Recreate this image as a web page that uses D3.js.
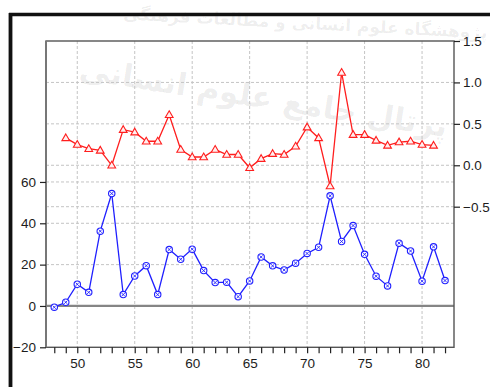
<!DOCTYPE html>
<html>
<head>
<meta charset="utf-8">
<script src="https://cdn.jsdelivr.net/npm/d3@7"></script>
<style>
  html, body { margin: 0; padding: 0; background: #fff; }
  svg { display: block; }
  .tick text { font-family: "Liberation Sans", Arial, sans-serif; font-size: 13.5px; fill: #1c1c1c; }
</style>
</head>
<body>
<svg id="chart" width="490" height="387"></svg>
<script>
// Years on the horizontal axis
const blueYears = d3.range(48, 83);   // 48 .. 82
const redYears  = d3.range(49, 82);   // 49 .. 81

// Left-axis series (circles)
const blueValues = [
  -0.6, 1.8, 10.5, 6.6, 36.2, 54.4, 5.5, 14.5, 19.5, 5.5,
  27.3, 22.6, 27.5, 17.1, 11.3, 11.5, 4.5, 12.1, 23.7, 19.4,
  17.4, 20.7, 25.4, 28.4, 53.3, 31.2, 38.9, 25.0, 14.4, 9.7,
  30.4, 26.6, 12.0, 28.6, 12.3
];

// Right-axis series (triangles)
const redValues = [
  0.33, 0.25, 0.20, 0.18, 0.00, 0.43, 0.40, 0.29, 0.29, 0.61,
  0.19, 0.10, 0.10, 0.19, 0.13, 0.13, -0.03, 0.08, 0.14, 0.13,
  0.23, 0.46, 0.33, -0.25, 1.12, 0.37, 0.37, 0.30, 0.24, 0.28,
  0.29, 0.25, 0.24
];

const leftTicks   = [-20, 0, 20, 40, 60];
const rightTicks  = [-0.5, 0.0, 0.5, 1.0, 1.5];
const xLabelTicks = [50, 55, 60, 65, 70, 75, 80];
const xMinorTicks = d3.range(48, 83);

const svg = d3.select("#chart");
const plot = { left: 46, right: 454, top: 41, bottom: 347.3 };

const x  = d3.scaleLinear().domain([47.28, 82.78]).range([plot.left, plot.right]);
const yL = d3.scaleLinear().domain([-20, 128.2]).range([plot.bottom, plot.top]);
const yR = d3.scaleLinear().domain([-2.197, 1.5]).range([plot.bottom, plot.top]);

// Faint background lettering
const wm = svg.append("g").attr("font-family", "DejaVu Sans, sans-serif")
  .attr("fill", "#000").attr("fill-opacity", 0.075).attr("text-anchor", "middle");
wm.append("text").attr("transform", "translate(305,29) rotate(3)")
  .attr("font-size", 17).attr("font-weight", "bold")
  .text("پژوهشگاه علوم انسانی و مطالعات فرهنگی");
wm.append("text").attr("transform", "translate(262,108) rotate(9)")
  .attr("font-size", 31).attr("font-weight", "bold")
  .text("پرتال جامع علوم انسانی");

// Gridlines
const grid = svg.append("g").attr("stroke", "#c4c4c4").attr("stroke-width", 1)
  .attr("stroke-dasharray", "3,2");
grid.selectAll(".gx").data(xLabelTicks).join("line")
  .attr("x1", d => x(d)).attr("x2", d => x(d))
  .attr("y1", plot.top).attr("y2", plot.bottom);
grid.selectAll(".gl").data(leftTicks.filter(d => d > -20 && d !== 0)).join("line")
  .attr("x1", plot.left).attr("x2", plot.right)
  .attr("y1", d => yL(d)).attr("y2", d => yL(d));
grid.selectAll(".gr").data(rightTicks.filter(d => d < 1.5)).join("line")
  .attr("x1", plot.left).attr("x2", plot.right)
  .attr("y1", d => yR(d)).attr("y2", d => yR(d));

// Zero line on the left axis
svg.append("line")
  .attr("x1", plot.left).attr("x2", plot.right)
  .attr("y1", yL(0)).attr("y2", yL(0))
  .attr("stroke", "#858585").attr("stroke-width", 2.2);

// Blue line + circle markers
const blueData = blueYears.map((yr, i) => ({ yr, v: blueValues[i] }));
svg.append("path").datum(blueData)
  .attr("fill", "none").attr("stroke", "#1f1fff").attr("stroke-width", 1.3)
  .attr("d", d3.line().x(d => x(d.yr)).y(d => yL(d.v)));
const bm = svg.append("g").selectAll("g").data(blueData).join("g")
  .attr("transform", d => `translate(${x(d.yr)},${yL(d.v)})`)
  .attr("stroke", "#1f1fff").attr("stroke-width", 1.1);
bm.append("circle").attr("r", 3.2).attr("fill", "#fff");
bm.append("path").attr("d", "M-1.6,-1.6L1.6,1.6M-1.6,1.6L1.6,-1.6").attr("stroke-width", 0.9);

// Red line + triangle markers
const redData = redYears.map((yr, i) => ({ yr, v: redValues[i] }));
svg.append("path").datum(redData)
  .attr("fill", "none").attr("stroke", "#ff1e1e").attr("stroke-width", 1.3)
  .attr("d", d3.line().x(d => x(d.yr)).y(d => yR(d.v)));
svg.append("g").selectAll("path").data(redData).join("path")
  .attr("transform", d => `translate(${x(d.yr)},${yR(d.v) + 0.5})`)
  .attr("d", d3.symbol(d3.symbolTriangle, 26))
  .attr("fill", "#fff0f0").attr("stroke", "#ff1e1e").attr("stroke-width", 1.1);

// Plot frame
svg.append("rect")
  .attr("x", plot.left).attr("y", plot.top)
  .attr("width", plot.right - plot.left).attr("height", plot.bottom - plot.top)
  .attr("fill", "none").attr("stroke", "#555").attr("stroke-width", 1.4);
svg.append("line").attr("x1", plot.left).attr("x2", plot.left)
  .attr("y1", plot.top).attr("y2", plot.bottom)
  .attr("stroke", "#777").attr("stroke-width", 2);

// Axes
function styleAxis(g) {
  g.select(".domain").remove();
  g.selectAll(".tick line").attr("stroke", "#222").attr("stroke-width", 1.2);
}
svg.append("g").attr("transform", `translate(${plot.left},0)`)
  .call(d3.axisLeft(yL).tickValues(leftTicks).tickSize(6).tickPadding(4).tickFormat(d3.format("d")))
  .call(styleAxis);
svg.append("g").attr("transform", `translate(${plot.right},0)`)
  .call(d3.axisRight(yR).tickValues(rightTicks).tickSize(6).tickPadding(3).tickFormat(d3.format(".1f")))
  .call(styleAxis);
svg.append("g").attr("transform", `translate(0,${plot.bottom})`)
  .call(d3.axisBottom(x).tickValues(xMinorTicks).tickSize(6).tickPadding(5)
    .tickFormat(d => xLabelTicks.includes(d) ? d : ""))
  .call(styleAxis);
svg.selectAll(".tick text").attr("font-family", null).attr("font-size", null);

// Heavy outer border (top and left)
svg.append("line").attr("x1", 9).attr("x2", 490).attr("y1", 14.5).attr("y2", 14.5)
  .attr("stroke", "#111").attr("stroke-width", 3.5);
svg.append("line").attr("x1", 10.5).attr("x2", 10.5).attr("y1", 13).attr("y2", 387)
  .attr("stroke", "#111").attr("stroke-width", 3.8);
</script>
</body>
</html>
